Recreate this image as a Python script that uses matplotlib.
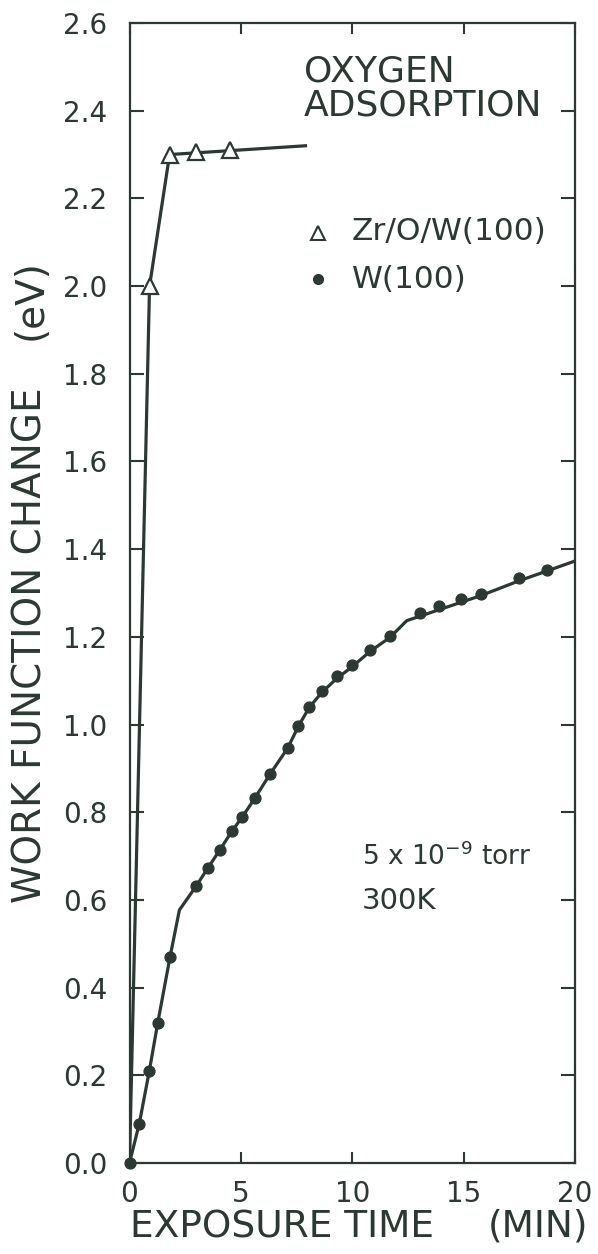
import matplotlib
matplotlib.use("Agg")
import matplotlib.pyplot as plt

INK = "#2c3831"

# Zr/O/W(100): measured points and the hand-drawn guide line
zr_time = [0.9, 1.8, 3.0, 4.5]
zr_wf = [2.00, 2.30, 2.305, 2.31]
zr_line_time = [0.0, 0.9, 1.8, 7.9]
zr_line_wf = [0.0, 2.00, 2.30, 2.32]

# W(100): measured points
w_time = [0.0, 0.44, 0.89, 1.27, 1.82, 3.0, 3.52, 4.07, 4.6, 5.06, 5.64, 6.31,
          7.10, 7.58, 8.07, 8.63, 9.30, 9.98, 10.78, 11.70, 13.03, 13.88,
          14.87, 15.77, 17.5, 18.73]
w_wf = [0.0, 0.09, 0.21, 0.32, 0.47, 0.632, 0.673, 0.715, 0.757, 0.789, 0.833,
        0.887, 0.946, 0.996, 1.039, 1.076, 1.110, 1.135, 1.171, 1.203, 1.255,
        1.270, 1.286, 1.297, 1.334, 1.352]

# W(100): hand-drawn guide line
w_line_time = [0.0, 0.44, 0.89, 1.27, 1.82, 2.24, 3.0, 3.52, 4.07, 4.6, 5.06,
               5.64, 6.31, 7.10, 7.58, 8.07, 8.63, 9.30, 9.98, 10.78, 11.70,
               12.45, 15.77, 17.5, 18.73, 20.0]
w_line_wf = [0.0, 0.09, 0.21, 0.32, 0.47, 0.577, 0.632, 0.673, 0.715, 0.757,
             0.789, 0.833, 0.887, 0.946, 0.996, 1.039, 1.073, 1.105, 1.131,
             1.166, 1.199, 1.237, 1.294, 1.328, 1.350, 1.373]

x_ticks = [0, 5, 10, 15, 20]
y_ticks = [0.0, 0.2, 0.4, 0.6, 0.8, 1.0, 1.2, 1.4, 1.6, 1.8, 2.0, 2.2, 2.4, 2.6]

plt.rcParams["font.family"] = ["DejaVu Sans"]

W, H = 598, 1254
fig = plt.figure(figsize=(W / 100, H / 100), dpi=100)
fig.patch.set_facecolor("white")

left, right, bottom_px, top_px = 129.5, 575.0, 1163.0, 23.0
ax = fig.add_axes([left / W, 1 - bottom_px / H, (right - left) / W,
                   (bottom_px - top_px) / H])
ax.set_xlim(0, 20)
ax.set_ylim(0, 2.6)

# guide lines
ax.plot(zr_line_time, zr_line_wf, color=INK, lw=2.3, zorder=2,
        solid_joinstyle="miter")
ax.plot(w_line_time, w_line_wf, color=INK, lw=2.3, zorder=2)

# data points
ax.plot(zr_time, zr_wf, linestyle="none", marker="^", markersize=11.5,
        markerfacecolor="white", markeredgecolor=INK, markeredgewidth=1.6,
        zorder=3)
ax.plot(w_time, w_wf, linestyle="none", marker="o", markersize=7.8,
        color=INK, zorder=3, clip_on=False)

for s in ax.spines.values():
    s.set_color(INK)
    s.set_linewidth(1.6)

ax.set_xticks(x_ticks)
ax.set_xticklabels([str(t) for t in x_ticks])
ax.set_yticks(y_ticks)
ax.set_yticklabels([f"{t:.1f}" for t in y_ticks])
ax.tick_params(axis="both", direction="in", color=INK, labelcolor=INK,
               width=1.5, labelsize=20)
ax.tick_params(axis="x", length=8, top=True, pad=12)
ax.tick_params(axis="y", length=10, right=True, pad=16)

# annotations inside the plot
ax.text(304 / W, 1 - 71 / H, "OXYGEN", transform=fig.transFigure,
        fontsize=26, color=INK, ha="left", va="center")
ax.text(304 / W, 1 - 106 / H, "ADSORPTION", transform=fig.transFigure,
        fontsize=26, color=INK, ha="left", va="center")

# legend drawn as marker + text
ax.plot([318 / W], [1 - 233 / H], transform=fig.transFigure, marker="^",
        markersize=10, markerfacecolor="white", markeredgecolor=INK,
        markeredgewidth=1.5, linestyle="none")
ax.text(352 / W, 1 - 232 / H, "Zr/O/W(100)", transform=fig.transFigure,
        fontsize=22.5, color=INK, ha="left", va="center")
ax.plot([318 / W], [1 - 279 / H], transform=fig.transFigure, marker="o",
        markersize=7, color=INK, linestyle="none")
ax.text(352 / W, 1 - 279 / H, "W(100)", transform=fig.transFigure,
        fontsize=22.5, color=INK, ha="left", va="center")

ax.text(362 / W, 1 - 857 / H, r"5 x 10$^{\mathregular{-9}}$ torr",
        transform=fig.transFigure, fontsize=19, color=INK, ha="left",
        va="center")
ax.text(362 / W, 1 - 901 / H, "300K", transform=fig.transFigure,
        fontsize=21, color=INK, ha="left", va="center")

# axis titles
fig.text(282 / W, 1 - 1227 / H, "EXPOSURE TIME", fontsize=27, color=INK,
         ha="center", va="center")
fig.text(538 / W, 1 - 1227 / H, "(MIN)", fontsize=27, color=INK,
         ha="center", va="center")
fig.text(31 / W, 1 - 645 / H, "WORK FUNCTION CHANGE", fontsize=28,
         color=INK, ha="center", va="center", rotation=90)
fig.text(31 / W, 1 - 300 / H, "(eV)", fontsize=28, color=INK,
         ha="center", va="center", rotation=90)

fig.savefig("out.png", dpi=100, facecolor="white")
